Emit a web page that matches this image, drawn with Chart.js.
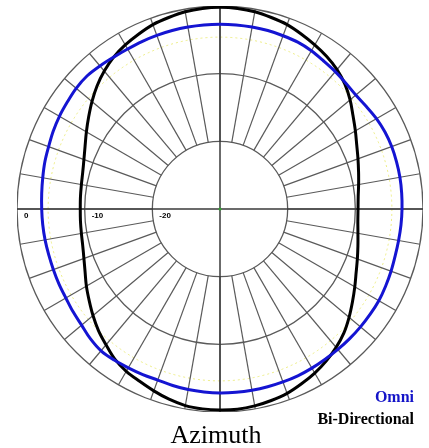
<!DOCTYPE html>
<html>
<head>
<meta charset="utf-8">
<script src="https://cdn.jsdelivr.net/npm/chart.js@4.4.1/dist/chart.umd.min.js"></script>
<style>
  html, body { margin: 0; padding: 0; background: #fff; }
  body { width: 429px; height: 448px; position: relative; overflow: hidden; }
  #wrap { position: absolute; left: 17px; top: 6px; width: 406px; height: 406px; }
  .leg { position: absolute; right: 15px; font-family: "Liberation Serif", "Times New Roman", serif; font-weight: bold; font-size: 16px; line-height: 1; white-space: nowrap; }
  #omni { top: 389px; color: #1414c8; }
  #bidir { top: 411px; color: #000; }
  #title { position: absolute; left: 0; width: 432px; top: 422px; text-align: center; font-family: "Liberation Serif", "Times New Roman", serif; font-size: 26px; line-height: 1; color: #000; }
</style>
</head>
<body>
<div id="wrap"><canvas id="c"></canvas></div>
<div class="leg" id="omni">Omni</div>
<div class="leg" id="bidir">Bi-Directional</div>
<div id="title">Azimuth</div>
<script>
// Azimuth angles (degrees, clockwise from top)
const azimuthDeg = [0,5,10,15,20,25,30,35,40,45,50,55,60,65,70,75,80,85,
  90,95,100,105,110,115,120,125,130,135,140,145,150,155,160,165,170,175,
  180,185,190,195,200,205,210,215,220,225,230,235,240,245,250,255,260,265,
  270,275,280,285,290,295,300,305,310,315,320,325,330,335,340,345,350,355];

// Relative gain (dB)
const omniDb = [-2.7,-2.7,-2.7,-2.7,-2.75,-2.8,-3.0,-3.3,-3.5,-3.7,-3.8,-3.6,
  -3.3,-3.1,-3.0,-3.0,-3.0,-3.05,-3.1,-3.15,-3.2,-3.2,-3.1,-3.0,
  -2.9,-2.9,-2.9,-2.9,-2.9,-2.9,-2.85,-2.8,-2.8,-2.8,-2.8,-2.8,
  -2.8,-2.85,-2.9,-3.0,-3.1,-3.0,-2.9,-2.75,-2.65,-2.9,-3.3,-3.5,
  -3.7,-3.75,-3.8,-3.8,-3.75,-3.7,-3.65,-3.55,-3.4,-3.2,-3.05,-2.8,
  -2.6,-2.45,-2.25,-2.2,-2.4,-2.6,-2.7,-2.7,-2.7,-2.7,-2.7,-2.7];

const biDirDb = [-0.2,-0.25,-0.4,-0.7,-1.0,-1.5,-2.0,-2.5,-3.1,-3.9,-4.9,-6.0,
  -6.9,-7.7,-8.3,-8.8,-9.2,-9.5,-9.6,-9.55,-9.3,-8.9,-8.4,-7.8,
  -7.0,-6.1,-5.1,-4.1,-3.3,-2.6,-2.0,-1.5,-1.0,-0.7,-0.45,-0.3,
  -0.3,-0.35,-0.5,-0.9,-1.4,-1.9,-2.3,-2.9,-3.8,-4.6,-5.5,-6.4,
  -7.2,-8.0,-8.6,-9.0,-9.2,-9.3,-9.35,-9.3,-9.2,-9.0,-8.6,-8.0,
  -7.2,-6.3,-5.3,-4.3,-3.4,-2.6,-2.0,-1.5,-1.0,-0.7,-0.4,-0.25];

// Scale and grid
const rangeDb = [-30, 0];
const ringTicks = [-20, -10, 0];
const tickLabels = ["0", "-10", "-20"];
const tickLabelValues = [0, -10, -20];
const spokeStepDeg = 10;
const spokeInnerDb = -20;
const minorRingsDb = [-4.6];

const gridPlugin = {
  id: 'polarGrid',
  beforeDatasetsDraw(chart) {
    const s = chart.scales.r;
    const ctx = chart.ctx;
    const stepIdx = spokeStepDeg / (360 / azimuthDeg.length);
    const rIn = s.getDistanceFromCenterForValue(spokeInnerDb);
    const rOut = s.getDistanceFromCenterForValue(rangeDb[1]);
    ctx.save();
    // minor yellow dotted rings
    ctx.strokeStyle = 'rgba(235,235,120,0.9)';
    ctx.lineWidth = 1;
    ctx.setLineDash([2, 3]);
    minorRingsDb.forEach(v => {
      ctx.beginPath();
      ctx.arc(s.xCenter, s.yCenter, s.getDistanceFromCenterForValue(v), 0, Math.PI * 2);
      ctx.stroke();
    });
    ctx.setLineDash([]);
    // spokes
    ctx.strokeStyle = '#5a5a5a';
    ctx.lineWidth = 1.2;
    for (let i = 0; i < azimuthDeg.length; i += stepIdx) {
      const a = s.getPointPosition(i, rIn);
      const b = s.getPointPosition(i, rOut);
      ctx.beginPath();
      ctx.moveTo(a.x, a.y);
      ctx.lineTo(b.x, b.y);
      ctx.stroke();
    }
    // main axes through the centre
    ctx.strokeStyle = '#3a3a3a';
    ctx.lineWidth = 1.5;
    const q = azimuthDeg.length / 4;
    [0, q].forEach(i => {
      const a = s.getPointPosition(i, rOut);
      const b = s.getPointPosition(i + 2 * q, rOut);
      ctx.beginPath();
      ctx.moveTo(a.x, a.y);
      ctx.lineTo(b.x, b.y);
      ctx.stroke();
    });
    // centre dot
    ctx.fillStyle = '#2fa02f';
    ctx.beginPath();
    ctx.arc(s.xCenter, s.yCenter, 1.5, 0, Math.PI * 2);
    ctx.fill();
    // tick labels along the left horizontal axis
    ctx.fillStyle = '#000';
    ctx.font = 'bold 8px "Liberation Sans", Arial, sans-serif';
    ctx.textAlign = 'left';
    ctx.textBaseline = 'top';
    tickLabels.forEach((t, k) => {
      const d = s.getDistanceFromCenterForValue(tickLabelValues[k]);
      const p = s.getPointPosition(3 * q, d);
      ctx.fillText(t, p.x + 7, p.y + 3);
    });
    ctx.restore();
  }
};

new Chart(document.getElementById('c'), {
  type: 'radar',
  data: {
    labels: azimuthDeg.map(d => d + '°'),
    datasets: [
      { label: 'Omni', data: omniDb, borderColor: '#1414d2', borderWidth: 3, pointRadius: 0, fill: false, tension: 0.35 },
      { label: 'Bi-Directional', data: biDirDb, borderColor: '#000000', borderWidth: 3, pointRadius: 0, fill: false, tension: 0.35 }
    ]
  },
  options: {
    responsive: true,
    maintainAspectRatio: false,
    animation: false,
    layout: { padding: 0 },
    plugins: { legend: { display: false }, tooltip: { enabled: false } },
    elements: { line: { borderJoinStyle: 'round' } },
    scales: {
      r: {
        min: rangeDb[0],
        max: rangeDb[1],
        startAngle: 0,
        ticks: { display: false, stepSize: 10 },
        grid: { circular: true, color: '#5a5a5a', lineWidth: 1.3 },
        angleLines: { display: false },
        pointLabels: { display: false }
      }
    }
  },
  plugins: [gridPlugin]
});
</script>
</body>
</html>
